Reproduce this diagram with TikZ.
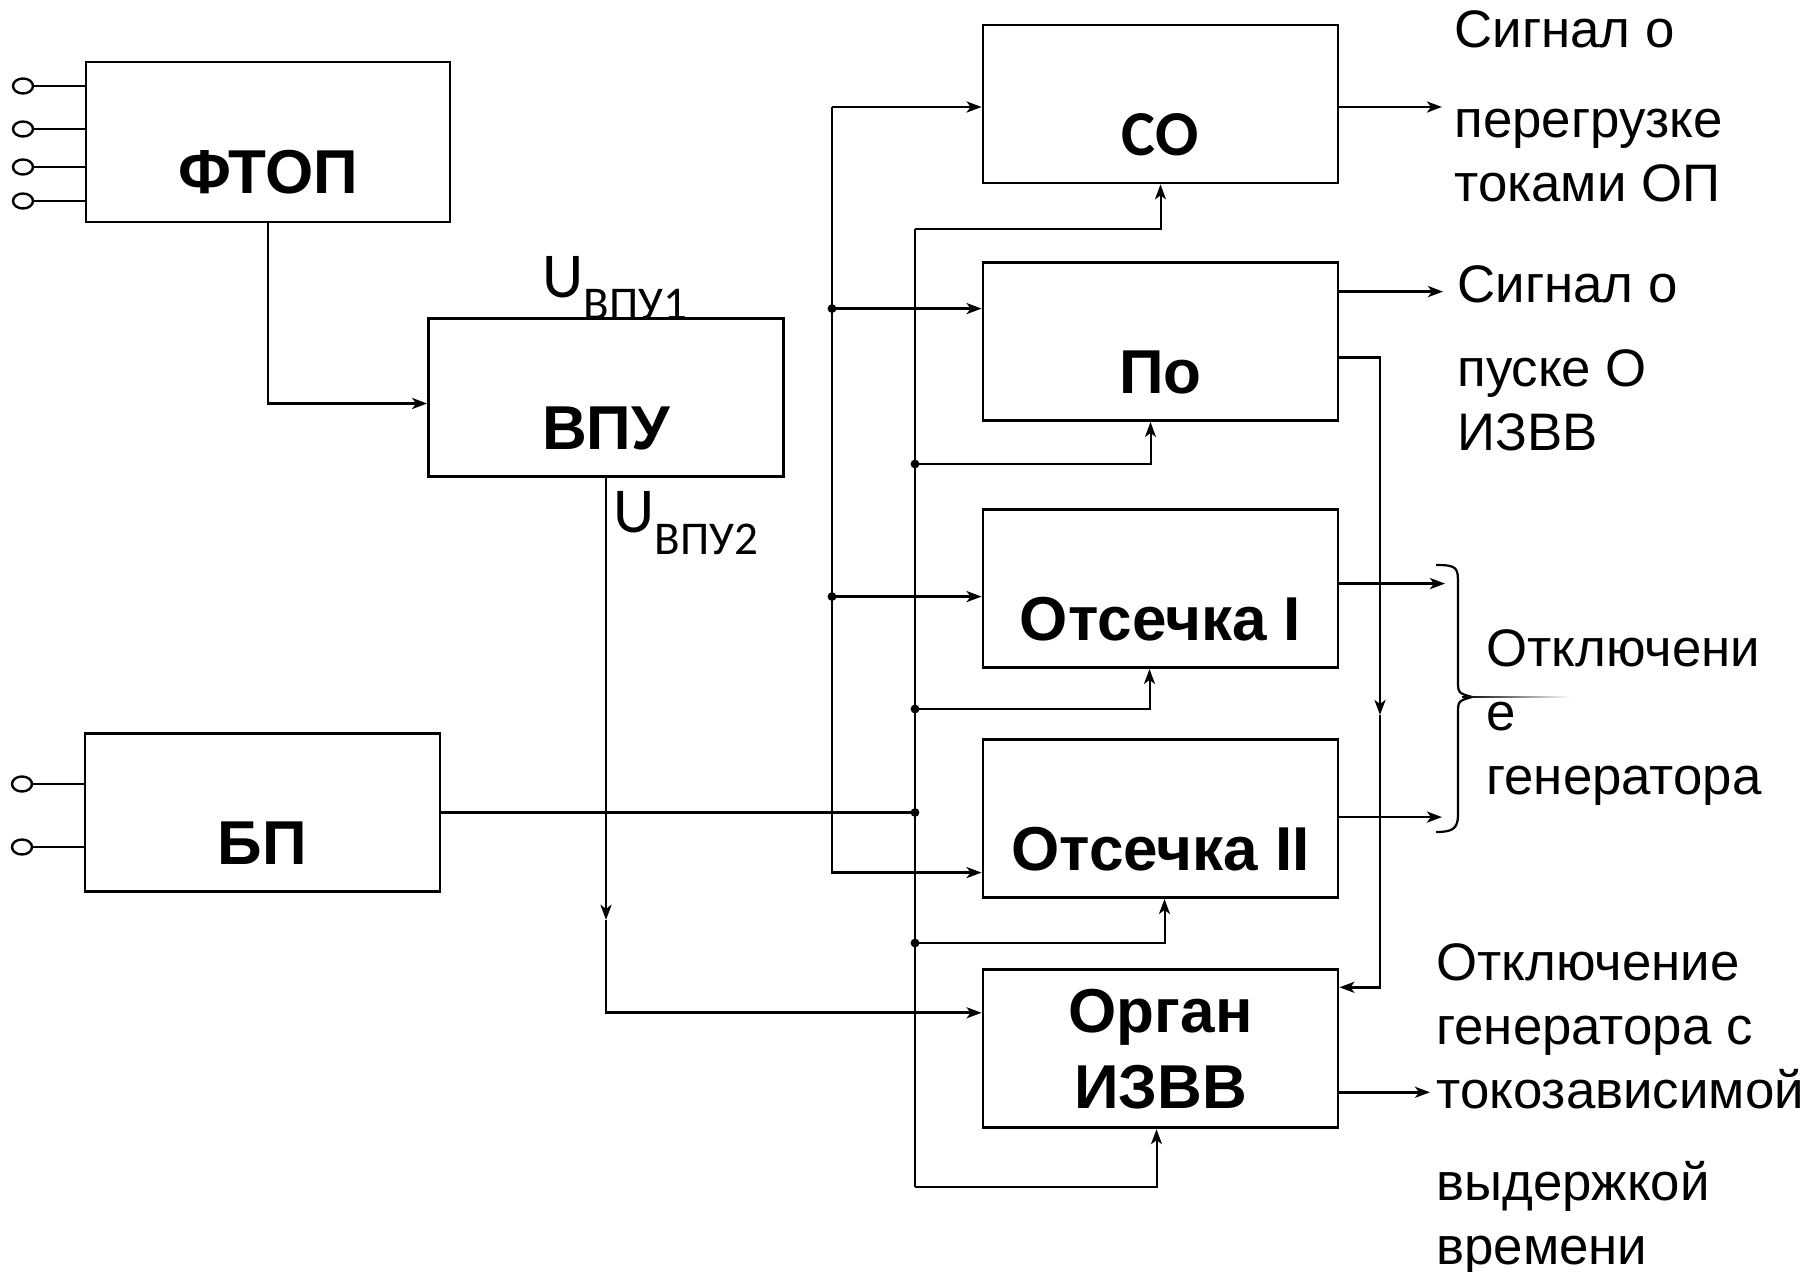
\documentclass[tikz,border=0pt]{standalone}
\usepackage{fontspec}
\setmainfont{Liberation Sans}
\newfontfamily\calfont{Carlito}
\usetikzlibrary{arrows.meta,positioning,shapes.geometric}
\newcommand{\uvpu}[1]{U\raisebox{-11pt}{\fontsize{23.5}{23.5}\selectfont ВПУ#1}}

\begin{document}
\begin{tikzpicture}[x=0.5pt,y=-0.5pt,>={Stealth[length=7.5pt,width=5.5pt,inset=2pt]},
    box/.style={draw,line width=1.4pt,minimum width=177.5pt,minimum height=79pt,align=center,font=\fontsize{31}{38}\selectfont\bfseries},
    low/.style={text height=52pt,text depth=0pt},
    term/.style={draw,line width=1.2pt,ellipse,inner sep=0pt,minimum width=10pt,minimum height=7.5pt},
    wire/.style={line width=1.4pt},
    fb/.style={line width=1pt},
    note/.style={align=left,inner sep=0pt,font=\fontsize{26.4}{32}\selectfont},
    ulab/.style={inner sep=0pt,font=\calfont\fontsize{32}{32}\selectfont}]
    \useasboundingbox (0,0) rectangle (1812,1272);

    % left column
    \node[box,low,minimum width=182pt,minimum height=80pt] (ftop) at (268,142) {ФТОП};
    \node[box,low] (vpu) at (606,397.5) {ВПУ};
    \node[box,low] (bp) at (262.5,812.5) {БП};
    \node[ulab,anchor=base west] (u1) at (542,298) {\uvpu{1}};
    \node[ulab,anchor=base west] (u2) at (613,533) {\uvpu{2}};

    % right column
    \node[box,low,font=\calfont\bfseries\fontsize{32}{38}\selectfont] (co) at (1160.5,104) {СО};
    \node[box,low,below=38.4pt of co] (po) {По};
    \node[box,low,below=43.1pt of po] (ots1) {Отсечка I};
    \node[box,low,below=34.6pt of ots1] (ots2) {Отсечка II};
    \node[box,below=34.7pt of ots2] (organ) {Орган\\ИЗВВ};

    % inputs
    \node[term] (f1) at (23,86) {};
    \node[term] (f2) at (23,129) {};
    \node[term] (f3) at (23,167) {};
    \node[term] (f4) at (23,201) {};
    \node[term] (b1) at (22,784) {};
    \node[term] (b2) at (22,847) {};
    \draw[wire] (f1) -- (f1 -| ftop.west);
    \draw[wire] (f2) -- (f2 -| ftop.west);
    \draw[wire] (f3) -- (f3 -| ftop.west);
    \draw[wire] (f4) -- (f4 -| ftop.west);
    \draw[wire] (b1) -- (b1 -| bp.west);
    \draw[wire] (b2) -- (b2 -| bp.west);

    % text outputs
    \node[note,anchor=north west] (sig1) at (1454,10) {Сигнал о\\[13pt]перегрузке\\токами ОП};
    \node[note,anchor=north west] (sig2) at (1457,265) {Сигнал о\\[10pt]пуске О\\ИЗВВ};
    \node[note,anchor=north west] (off1) at (1486,629) {Отключени\\е\\генератора};
    \node[note,anchor=north west] (trip) at (1436,943) {Отключение\\генератора с\\токозависимой\\[14pt]выдержкой\\времени};

    \coordinate (bus) at (832,0);
    \coordinate (pwr) at (915,0);
    \coordinate (rline) at (1380,0);
    \coordinate (brx) at (1445,0);

    % ФТОП, ВПУ
    \draw[wire,->] (ftop.south) |- ([yshift=-3pt]vpu.west);
    \coordinate (vmid) at ([yshift=-221pt]vpu.south);
    \coordinate (orgin1) at ([yshift=18pt]organ.west);
    \draw[wire,->] (vpu.south) -- (vmid);
    \draw[wire,->] (vmid) |- (orgin1);

    % signal bus
    \coordinate (coin) at ([yshift=-1.5pt]co.west);
    \coordinate (poin) at ([yshift=16.5pt]po.west);
    \coordinate (ots1in) at ([yshift=-4pt]ots1.west);
    \coordinate (ots2in) at ([yshift=-27pt]ots2.west);
    \draw[wire,->] (bus |- coin) -- (coin);
    \draw[wire,->] (bus |- coin) |- (ots2in);
    \draw[wire,->] (bus |- poin) -- (poin);
    \draw[wire,->] (bus |- ots1in) -- (ots1in);
    \fill (bus |- poin) circle (2.2pt);
    \fill (bus |- ots1in) circle (2.2pt);

    % supply bus
    \coordinate (fbco) at ([yshift=-22.5pt]co.south);
    \coordinate (fbpo) at ([xshift=-5pt,yshift=-21pt]po.south);
    \coordinate (fbo1) at ([xshift=-5.5pt,yshift=-20pt]ots1.south);
    \coordinate (fbo2) at ([xshift=2pt,yshift=-22pt]ots2.south);
    \coordinate (fbor) at ([xshift=-2pt,yshift=-29pt]organ.south);
    \draw[fb] (pwr |- fbco) -- (pwr |- fbor);
    \draw[wire] (bp.east) -- (pwr |- bp.east);
    \fill (pwr |- bp.east) circle (2.2pt);
    \draw[fb,->] (pwr |- fbco) -- (fbco) -- (co.south);
    \draw[fb,->] (pwr |- fbpo) -- (fbpo) -- (fbpo |- po.south);
    \draw[fb,->] (pwr |- fbo1) -- (fbo1) -- (fbo1 |- ots1.south);
    \draw[fb,->] (pwr |- fbo2) -- (fbo2) -- (fbo2 |- ots2.south);
    \draw[fb,->] (pwr |- fbor) -- (fbor) -- (fbor |- organ.south);
    \fill (pwr |- fbpo) circle (2.2pt);
    \fill (pwr |- fbo1) circle (2.2pt);
    \fill (pwr |- fbo2) circle (2.2pt);

    % По to Орган
    \coordinate (poout2) at ([yshift=-8pt]po.east);
    \coordinate (orgin2) at ([yshift=30.75pt]organ.east);
    \coordinate (rmid) at (rline |- 0,715);
    \draw[wire,->] (poout2) -| (rmid);
    \draw[wire,->] (rmid) |- (orgin2);

    % outputs
    \coordinate (coout) at ([yshift=-1.5pt]co.east);
    \coordinate (poout) at ([yshift=25pt]po.east);
    \coordinate (o1out) at ([yshift=2.5pt]ots1.east);
    \coordinate (o2out) at ([yshift=0.75pt]ots2.east);
    \coordinate (orout) at ([yshift=-21.75pt]organ.east);
    \draw[wire,->,shorten >=6pt] (coout) -- (coout -| sig1.west);
    \draw[wire,->,shorten >=7pt] (poout) -- (poout -| sig2.west);
    \draw[wire,->] (o1out) -- (o1out -| brx);
    \draw[wire,->,shorten >=1.5pt] (o2out) -- (o2out -| brx);
    \draw[wire,->,shorten >=3pt] (orout) -- (orout -| trip.west);

    % brace
    \draw[line width=1.1pt] (1436,565) .. controls (1458,565) and (1458,568) .. (1458,585) -- (1458,680)
      .. controls (1458,693) .. (1472,697) .. controls (1458,701) .. (1458,714) -- (1458,815)
      .. controls (1458,829) and (1452,832) .. (1436,832);
    \shade[left color=black,right color=white] (1462,696.2) rectangle (1570,697.8);
\end{tikzpicture}
\end{document}
